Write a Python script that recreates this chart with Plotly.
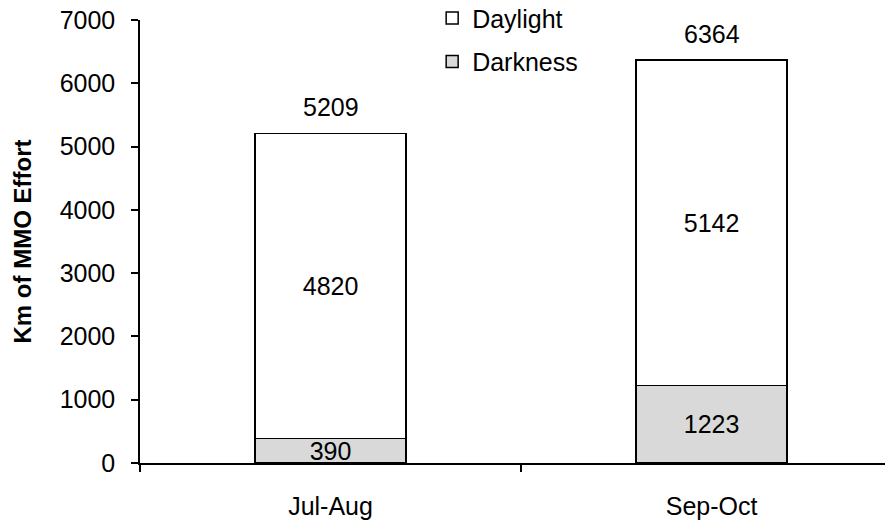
import plotly.graph_objects as go

categories = ["Jul-Aug", "Sep-Oct"]
darkness = [390, 1223]
daylight = [4820, 5142]
totals = [5209, 6364]
y_ticks = [0, 1000, 2000, 3000, 4000, 5000, 6000, 7000]

FONT = "Arial, 'Liberation Sans', sans-serif"
FS = 25

fig = go.Figure()
fig.add_trace(go.Bar(
    x=categories, y=darkness, name="Darkness", legendgroup="b", legendrank=2,
    marker=dict(color="#d9d9d9", line=dict(color="black", width=1.5)),
    text=[str(v) for v in darkness], textposition="inside",
    insidetextanchor="middle", constraintext="none",
    textfont=dict(size=FS, color="black", family=FONT),
    width=0.396,
))
fig.add_trace(go.Bar(
    x=categories, y=daylight, name="Daylight", legendgroup="a", legendrank=1,
    marker=dict(color="white", line=dict(color="black", width=1.5)),
    text=[str(v) for v in daylight], textposition="inside",
    insidetextanchor="middle", constraintext="none",
    textfont=dict(size=FS, color="black", family=FONT),
    width=0.396,
))

for c, t in zip(categories, totals):
    fig.add_annotation(x=c, y=t, text=str(t), showarrow=False,
                       yanchor="bottom", yshift=10,
                       font=dict(size=FS, color="black", family=FONT))

# page body has an 8px default margin, so the figure is 8px smaller
fig.update_layout(
    width=885, height=515,
    margin=dict(l=132, r=0, t=12, b=60, autoexpand=False),
    paper_bgcolor="white", plot_bgcolor="white",
    barmode="stack",
    font=dict(family=FONT, size=FS, color="black"),
    showlegend=True,
    legend=dict(x=0.388, y=1.056, xanchor="left", yanchor="top",
                traceorder="grouped", tracegroupgap=8,
                font=dict(size=FS, family=FONT, color="black"),
                bgcolor="rgba(0,0,0,0)"),
    xaxis=dict(type="category", range=[-0.5, 1.476],
               showline=True, linecolor="black", linewidth=1.5,
               ticks="outside", tickson="boundaries", ticklen=7,
               tickcolor="black", tickwidth=1.5,
               showgrid=False, zeroline=False, automargin=False,
               ticklabelstandoff=20,
               tickfont=dict(size=FS, family=FONT, color="black")),
    yaxis=dict(range=[0, 7000], tickvals=y_ticks,
               showline=True, linecolor="black", linewidth=1.5,
               ticks="outside", ticklen=7, tickcolor="black", tickwidth=1.5,
               showgrid=False, zeroline=False, automargin=False,
               ticklabelstandoff=11, ticklabeloverflow="allow",
               tickfont=dict(size=FS, family=FONT, color="black"),
               title=dict(text="<b>Km of MMO Effort</b>", standoff=21,
                          font=dict(size=24, family=FONT, color="black"))),
)

fig.write_html("out.html")
